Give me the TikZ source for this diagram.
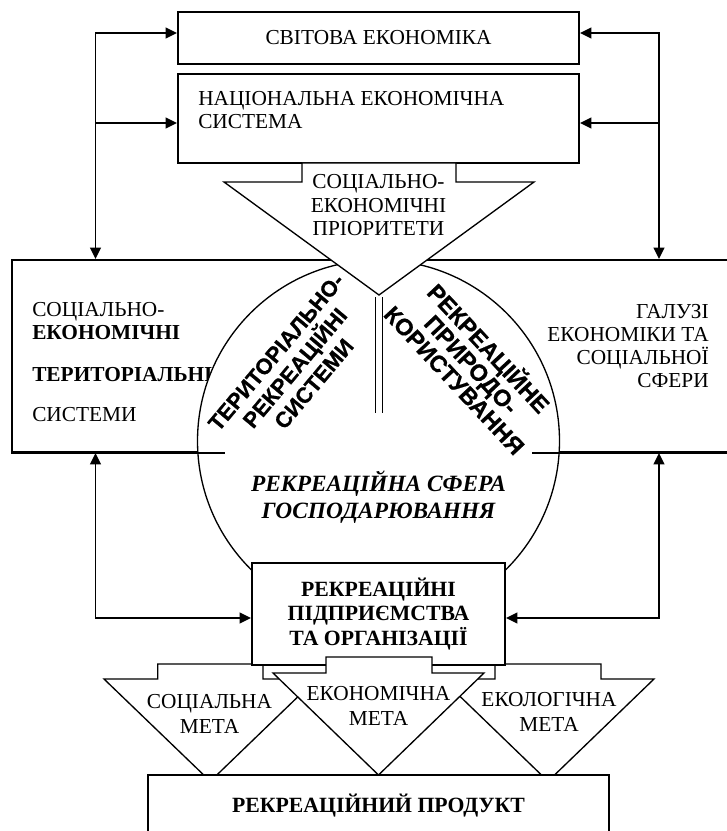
\documentclass[tikz,border=0pt]{standalone}
\usepackage{fontspec}
\setmainfont{Liberation Serif}
\setsansfont{Liberation Sans}
\newfontfamily\heavy{Liberation Sans}[BoldFeatures={FakeBold=0.8}]
\usetikzlibrary{arrows.meta,calc}

\def\px{0.75pt} % one pixel of the layout
\newcommand\txt{\fontsize{16}{17.3}\selectfont}
\newcommand\txtb{\fontsize{16.3}{18.4}\selectfont\bfseries}

\tikzset{x=0.75pt, y=-0.75pt,
        box/.style={ % rectangular blocks
            draw, line width=1.4pt, fill=white, inner sep=0pt},
        goal/.style={ % arrow shaped blocks
            draw, line width=1pt, fill=white, line join=miter},
        arr/.style={ % connectors
            >={Triangle[length=8.5pt,width=8pt]}, line width=1.4pt},
        lbl/.style={align=center, font=\fontsize{16}{18.7}\selectfont},
        rot/.style={align=center, inner sep=0pt}
        }

\begin{document}
\begin{tikzpicture}
    \useasboundingbox (0,0) rectangle (727,831);
    \clip (0,0) rectangle (727,831);

    % upper level
    \node[box, minimum width=401*\px, minimum height=52*\px, font=\txt] (world) at (378.5,38) {СВІТОВА ЕКОНОМІКА};
    \node[box, minimum width=401*\px, minimum height=89*\px] (nat) at (378.5,118.5) {};
    \node[anchor=west, align=left, inner sep=0pt, font=\txt] (natlbl) at (198,110) {НАЦІОНАЛЬНА ЕКОНОМІЧНА\\СИСТЕМА};

    % side blocks
    \node[box, minimum width=338*\px, minimum height=192*\px] (lbox) at (181,356) {};
    \node[box, minimum width=332*\px, minimum height=192*\px] (rbox) at (574,356) {};
    \node[anchor=west, align=left, inner sep=0pt, font=\txt] (lboxlbl) at (32,362)
        {СОЦІАЛЬНО-\\\textbf{ЕКОНОМІЧНІ}\\[14pt]\textbf{ТЕРИТОРІАЛЬНІ}\\[13pt]СИСТЕМИ};
    \node[anchor=east, align=right, inner sep=0pt, font=\txt] (rboxlbl) at (709,346)
        {ГАЛУЗІ\\ЕКОНОМІКИ ТА\\СОЦІАЛЬНОЇ\\СФЕРИ};

    % the sphere
    \node[draw, circle, fill=white, line width=1pt, inner sep=0pt, minimum size=362*\px] (sphere) at (378.5,441) {};
    \draw[line width=1.4pt] (lbox.south west) -- ++(214,0);
    \draw[line width=1.4pt] (rbox.south east) -- ++(-209,0);

    % priorities
    \draw[goal] (302,163) -- (302,182) -- (224,182) -- (379,295) -- (534,182) -- (456,182) -- (456,163) -- cycle;
    \node[lbl, font=\fontsize{16}{17.6}\selectfont] (prio) at (378.5,205.5) {СОЦІАЛЬНО-\\ЕКОНОМІЧНІ\\ПРІОРИТЕТИ};
    \coordinate (split top) at (379,297);
    \coordinate (split end) at (379,413);
    \draw[line width=0.8pt, double, double distance=4.4pt] (split top) -- (split end);

    \node[rot, rotate=50, font=\heavy\bfseries\fontsize{16.5}{18.5}\selectfont] (trs) at (295,368)
        {ТЕРИТОРІАЛЬНО-\\РЕКРЕАЦІЙНІ\\СИСТЕМИ};
    \node[rot, rotate=-47, font=\heavy\bfseries\fontsize{17.5}{17.5}\selectfont] (rpk) at (473,363)
        {РЕКРЕАЦІЙНЕ\\ПРИРОДО-\\КОРИСТУВАННЯ};
    \node[align=center, font=\fontsize{17.5}{20}\selectfont\bfseries\itshape] (spherelbl) at (378.5,497)
        {РЕКРЕАЦІЙНА СФЕРА\\ГОСПОДАРЮВАННЯ};

    % goals and enterprises
    \draw[goal] (157.7,664) -- (157.7,679) -- (104,679) -- (210.3,781.3) -- (316.3,679) -- (263,679) -- (263,664) -- cycle;
    \draw[goal] (495,664) -- (495,679) -- (442,679) -- (548,781.3) -- (654,679) -- (601,679) -- (601,664) -- cycle;
    \node[box, minimum width=253*\px, minimum height=102*\px, align=center, font=\txtb] (firms) at (378.5,614)
        {РЕКРЕАЦІЙНІ\\ПІДПРИЄМСТВА\\ТА ОРГАНІЗАЦІЇ};
    \draw[goal] (326,657) -- (326,673) -- (273,673) -- (378.5,775) -- (484,673) -- (432,673) -- (432,657) -- cycle;
    \node[lbl] (social) at (209.5,714) {СОЦІАЛЬНА\\МЕТА};
    \node[lbl] (econ) at (378.5,705.5) {ЕКОНОМІЧНА\\МЕТА};
    \node[lbl] (ecol) at (549,712) {ЕКОЛОГІЧНА\\МЕТА};

    \node[box, minimum width=461*\px, minimum height=75*\px] (product) at (378.5,812.5) {};
    \node[font=\txtb] (productlbl) at (378.5,806) {РЕКРЕАЦІЙНИЙ ПРОДУКТ};

    % feedback connectors
    \coordinate (lt) at (95.5,33);
    \coordinate (lm) at (95.5,123);
    \coordinate (lb) at (95.5,618);
    \coordinate (rt) at (659,33);
    \coordinate (rm) at (659,123);
    \coordinate (rb) at (659,618);

    \draw[arr, <->] (lt -| world.west) -- (lt) -- (lt |- lbox.north);
    \draw[arr, <->] (rt -| world.east) -- (rt) -- (rt |- rbox.north);
    \draw[arr, ->] (lm) -- (lm -| nat.west);
    \draw[arr, ->] (rm) -- (rm -| nat.east);
    \draw[arr, <->] (lb |- lbox.south) -- (lb) -- (lb -| firms.west);
    \draw[arr, <->] (rb |- rbox.south) -- (rb) -- (rb -| firms.east);
\end{tikzpicture}
\end{document}
